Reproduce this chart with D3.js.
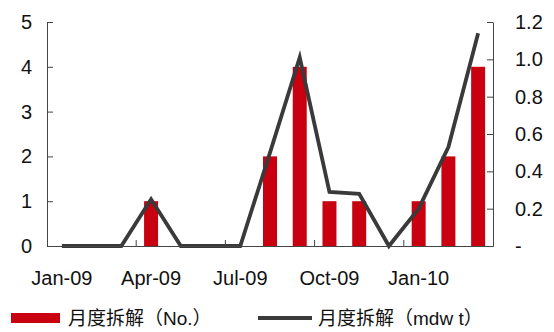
<!DOCTYPE html>
<html lang="zh">
<head>
<meta charset="UTF-8">
<title>月度拆解</title>
<script src="https://cdnjs.cloudflare.com/ajax/libs/d3/7.8.5/d3.min.js"></script>
<style>
	body { margin: 0; background: #fff; }
	svg { font-family: "Liberation Sans", Arial, "Noto Sans CJK SC", sans-serif; }
</style>
</head>
<body>
<svg id="chart" width="554" height="332"></svg>
<script>
var months = ["Jan-09","Feb-09","Mar-09","Apr-09","May-09","Jun-09","Jul-09","Aug-09","Sep-09","Oct-09","Nov-09","Dec-09","Jan-10","Feb-10","Mar-10"];
var countNo = [0, 0, 0, 1, 0, 0, 0, 2, 4, 1, 1, 0, 1, 2, 4];
var mdwt = [0, 0, 0, 0.25, 0, 0, 0, 0.5, 1.01, 0.29, 0.28, 0, 0.2, 0.53, 1.14];
var leftTicks = [0, 1, 2, 3, 4, 5];
var rightTicks = [0, 0.2, 0.4, 0.6, 0.8, 1.0, 1.2];
var labelMonths = ["Jan-09", "Apr-09", "Jul-09", "Oct-09", "Jan-10"];
var legendNames = ["月度拆解（No.）", "月度拆解（mdw t）"];

function draw() {
	var svg = d3.select("#chart");
	var pL = 47, pR = 493, pT = 22, pB = 246;
	var red = "#c8000f", grey = "#3a3a3a", axisCol = "#444";

	var x = d3.scaleBand().domain(months).range([pL, pR]);
	var yL = d3.scaleLinear().domain([0, 5]).range([pB, pT]);
	var yR = d3.scaleLinear().domain([0, 1.2]).range([pB, pT]);

	// bars
	var bw = x.bandwidth() * 0.47;
	svg.append("g").selectAll("rect").data(countNo).enter()
		.append("rect")
		.attr("x", (d, i) => x(months[i]) + (x.bandwidth() - bw) / 2)
		.attr("width", bw)
		.attr("y", d => yL(d))
		.attr("height", d => pB - yL(d))
		.attr("fill", red);

	// line
	var lnMkr = d3.line()
		.x((d, i) => x(months[i]) + x.bandwidth() / 2)
		.y(d => yR(d));
	svg.append("path").attr("d", lnMkr(mdwt))
		.attr("fill", "none").attr("stroke", grey).attr("stroke-width", 3.8);

	var styleAxis = function(g) {
		g.selectAll(".domain, line").attr("stroke", axisCol).attr("stroke-width", 1);
		g.selectAll("text").attr("font-size", 20).attr("fill", "#111")
			.attr("font-family", "'Liberation Sans', Arial, sans-serif");
	};

	// left axis
	svg.append("g").attr("transform", `translate(${pL},0)`)
		.call(d3.axisLeft(yL).tickValues(leftTicks).tickFormat(d3.format("d"))
			.tickSizeInner(-6).tickSizeOuter(0).tickPadding(15))
		.call(styleAxis);

	// right axis
	svg.append("g").attr("transform", `translate(${pR},0)`)
		.call(d3.axisRight(yR).tickValues(rightTicks)
			.tickFormat(d => d === 0 ? "-" : d3.format(".1f")(d))
			.tickSizeInner(-6).tickSizeOuter(0).tickPadding(22))
		.call(styleAxis);

	// x axis
	var gx = svg.append("g").attr("transform", `translate(0,${pB})`)
		.call(d3.axisBottom(x).tickValues(labelMonths).tickSize(0).tickPadding(25))
		.call(styleAxis);
	gx.selectAll(".tick line").remove();
	gx.selectAll(".qtick").data(labelMonths.slice(1)).enter()
		.append("line")
		.attr("x1", d => x(d)).attr("x2", d => x(d))
		.attr("y1", 0).attr("y2", -6)
		.attr("stroke", axisCol);

	// legend
	var lg = svg.append("g").attr("font-family", "'Liberation Sans', Arial, 'Noto Sans CJK SC', sans-serif")
		.attr("font-size", 19).attr("fill", "#111");
	lg.append("rect").attr("x", 11).attr("y", 313).attr("width", 49).attr("height", 10).attr("fill", red);
	lg.append("text").attr("x", 68).attr("y", 325).text(legendNames[0]);
	lg.append("line").attr("x1", 258).attr("x2", 312).attr("y1", 318).attr("y2", 318)
		.attr("stroke", grey).attr("stroke-width", 3.8);
	lg.append("text").attr("x", 318).attr("y", 325).text(legendNames[1]);
}
draw();
</script>
</body>
</html>
